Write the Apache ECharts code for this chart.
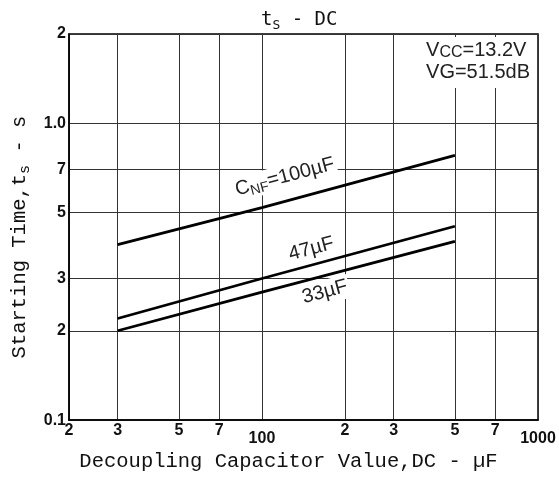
<!DOCTYPE html>
<html>
<head>
<meta charset="utf-8">
<script src="https://cdn.jsdelivr.net/npm/echarts@6/dist/echarts.min.js"></script>
<style>
html,body{margin:0;padding:0;background:#fff;}
#c{width:559px;height:477px;}
</style>
</head>
<body>
<div id="c"></div>
<script>
// ---- data ----
const capValues = [30, 100, 500];           // DC, µF
const ts100 = [0.39, 0.52, 0.78];           // C_NF = 100 µF
const ts47  = [0.22, 0.30, 0.45];           // 47 µF
const ts33  = [0.20, 0.27, 0.40];           // 33 µF

const xTicks = [20, 30, 50, 70, 100, 200, 300, 500, 700, 1000];
const xTickLabels = ['2', '3', '5', '7', '100', '2', '3', '5', '7', '1000'];
const yTicks = [0.1, 0.2, 0.3, 0.5, 0.7, 1, 2];
const yTickLabels = ['0.1', '2', '3', '5', '7', '1.0', '2'];

const pairs = (ys) => capValues.map((x, i) => [x, ys[i]]);
const nearestIdx = (arr, v) => {
  let best = 0, bd = Infinity;
  arr.forEach((t, i) => { const d = Math.abs(Math.log(t) - Math.log(v)); if (d < bd) { bd = d; best = i; } });
  return best;
};

const mono = 'Liberation Mono';
const lblFont = 'Liberation Sans';
const gridLine = { show: true, lineStyle: { color: '#333', width: 1 } };
const curve = { color: '#000', width: 2.8 };

function mark(coord, text, rich) {
  return {
    symbol: 'circle', symbolSize: 1, silent: true,
    itemStyle: { color: 'rgba(0,0,0,0)' },
    label: {
      show: true, position: 'inside', rotate: 15,
      backgroundColor: '#fff', padding: [0, 2],
      formatter: text, rich: rich, color: '#222'
    },
    data: [{ coord: coord }]
  };
}
const richLbl = {
  m: { fontFamily: lblFont, fontSize: 20, color: '#222', lineHeight: 24 },
  s: { fontFamily: lblFont, fontSize: 14, color: '#222', lineHeight: 14, verticalAlign: 'bottom' }
};

const chart = echarts.init(document.getElementById('c'), null, { renderer: 'canvas' });
chart.setOption({
  animation: false,
  backgroundColor: '#fff',
  title: {
    left: 256, top: 3,
    text: '{t|t}{s|S}{t| - DC}',
    textStyle: {
      rich: {
        t: { fontFamily: 'DejaVu Sans Mono', fontWeight: 'normal', fontSize: 19, color: '#111', lineHeight: 24 },
        s: { fontFamily: 'DejaVu Sans Mono', fontWeight: 'normal', fontSize: 13, color: '#111', lineHeight: 13, verticalAlign: 'bottom' }
      }
    }
  },
  grid: { left: 69, top: 34, right: 21, bottom: 55, show: true, borderColor: '#000', borderWidth: 1.5, containLabel: false },
  xAxis: {
    type: 'log', logBase: 10, min: 20, max: 1000,
    name: 'Decoupling Capacitor Value,DC - µF',
    nameLocation: 'middle', nameGap: 22,
    nameTextStyle: { fontFamily: mono, fontSize: 20.5, color: '#111', padding: [0, 30, 0, 0] },
    axisLine: { show: true, lineStyle: { color: '#000', width: 1.5 } },
    axisTick: { show: false, customValues: xTicks },
    splitLine: gridLine,
    minorSplitLine: { show: false },
    axisLabel: {
      customValues: xTicks, margin: 2, color: '#111',
      formatter: (v) => { const i = nearestIdx(xTicks, v); const t = xTickLabels[i]; return t.length > 1 ? '{b|' + t + '}' : '{a|' + t + '}'; },
      rich: {
        a: { fontFamily: lblFont, fontWeight: 'bold', fontSize: 16, color: '#111' },
        b: { fontFamily: lblFont, fontWeight: 'bold', fontSize: 16, color: '#111', padding: [8, 0, 0, 0] }
      }
    }
  },
  yAxis: {
    type: 'log', logBase: 10, min: 0.1, max: 2,
    name: '{a|Starting Time,t}{b|s}{a| - s}',
    nameLocation: 'middle', nameRotate: 90, nameGap: 36,
    nameTextStyle: {
      padding: [0, 20, 0, 0],
      rich: {
        a: { fontFamily: mono, fontSize: 20.5, color: '#111', lineHeight: 26 },
        b: { fontFamily: mono, fontSize: 15, color: '#111', lineHeight: 15, verticalAlign: 'bottom' }
      }
    },
    axisLine: { show: true, lineStyle: { color: '#000', width: 1.5 } },
    axisTick: { show: false, customValues: yTicks },
    splitLine: gridLine,
    axisLabel: {
      customValues: yTicks, margin: 3, color: '#111',
      fontFamily: lblFont, fontWeight: 'bold', fontSize: 16,
      formatter: (v) => yTickLabels[nearestIdx(yTicks, v)]
    }
  },
  series: [
    {
      type: 'line', name: '100', data: pairs(ts100), showSymbol: false, symbol: 'none',
      lineStyle: curve, z: 3,
      markPoint: mark([121, 0.66], '{m|C}{s|NF}{m|=100µF}', richLbl)
    },
    {
      type: 'line', name: '47', data: pairs(ts47), showSymbol: false, symbol: 'none',
      lineStyle: curve, z: 3,
      markPoint: mark([151, 0.377], '{m|47µF}', richLbl)
    },
    {
      type: 'line', name: '33', data: pairs(ts33), showSymbol: false, symbol: 'none',
      lineStyle: curve, z: 3,
      markPoint: mark([169, 0.27], '{m|33µF}', richLbl)
    }
  ],
  graphic: [{
    type: 'text', right: 26, top: 37, z: 10,
    style: {
      text: '{m|V}{s|CC}{m|=13.2V}\n{m|VG=51.5dB}',
      backgroundColor: '#fff', padding: [2, 3, 5, 10], align: 'right',
      rich: {
        m: { fontFamily: lblFont, fontSize: 20, fill: '#222', lineHeight: 22 },
        s: { fontFamily: lblFont, fontSize: 16, fill: '#222', lineHeight: 16, verticalAlign: 'bottom' }
      }
    }
  }]
});
</script>
</body>
</html>
